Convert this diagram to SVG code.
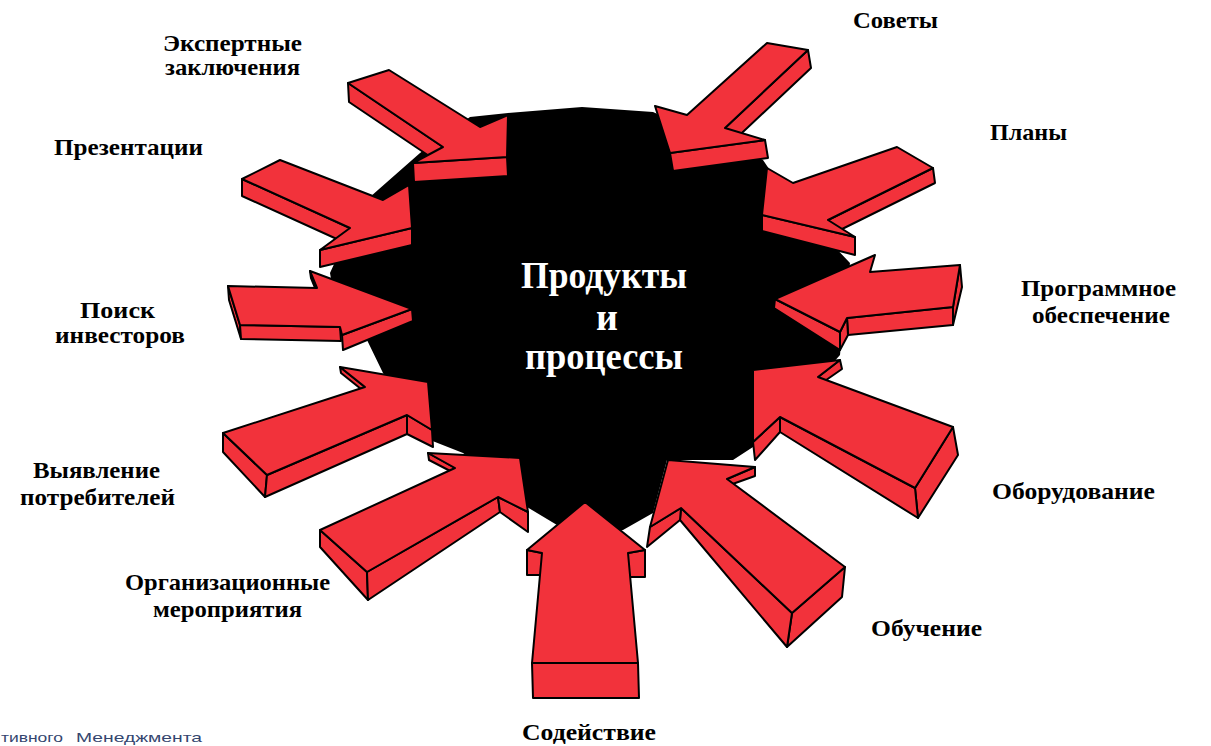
<svg xmlns="http://www.w3.org/2000/svg" width="1211" height="746" viewBox="0 0 1211 746">
<style>
.a polygon{fill:#f2323b;stroke:#000;stroke-width:2;stroke-linejoin:round}
.lbl{font-family:"Liberation Serif","Times New Roman",serif;font-weight:bold;font-size:24px;fill:#000}
.ctr{font-family:"Liberation Serif","Times New Roman",serif;font-weight:bold;font-size:38px;fill:#fff}
.foot{font-family:"Liberation Sans",Arial,sans-serif;font-size:13px;fill:#34466f}
</style>
<rect width="1211" height="746" fill="#fff"/>
<g id="core">
<polygon fill="#000" points="370,197 420,153 470,117 508,113 582,107 653,112 763,160 790,200 850,263 845,300 840,355 800,400 753,447 733,460 667,460 653,513 623,530 585,535 557,525 527,507 500,480 463,453 430,440 383,373 367,340 333,290 330,273 345,240"/>
<text class="ctr" x="521" y="288" textLength="166" lengthAdjust="spacingAndGlyphs">Продукты</text>
<text class="ctr" x="607" y="330" text-anchor="middle">и</text>
<text class="ctr" x="525" y="369" textLength="158" lengthAdjust="spacingAndGlyphs">процессы</text>
</g>
<g id="connectors" class="a">
<g id="arrow-expert">
<polygon points="348,83 443,147 444,166 349,102"/>
<polygon points="413,163 507,157 508,176 414,182"/>
<polygon points="389,70 480,127 508,115 507,157 413,163 443,147 348,83"/>
</g>
<g id="arrow-sovety">
<polygon points="808,50 725,128 728,146 811,68"/>
<polygon points="765,140 670,153 673,171 768,158"/>
<polygon points="767,43 808,50 725,128 765,140 670,153 655,106 687,115"/>
</g>
<g id="arrow-prez">
<polygon points="242,179 350,228 350,245 242,196"/>
<polygon points="320,250 412,228 412,245 320,267"/>
<polygon points="242,179 280,160 383,200 409,185 412,228 320,250 350,228"/>
</g>
<g id="arrow-poisk">
<polygon points="228,286 240,325 241,339 229,300"/>
<polygon points="240,325 340,327 341,341 241,339"/>
<polygon points="342,335 412,309 413,321 343,350"/>
<polygon points="310,271 317,288 318,295 311,278"/>
<polygon points="228,286 317,288 310,271 412,309 342,335 340,327 240,325"/>
</g>
<g id="arrow-vyyav">
<polygon points="223,433 267,475 265,497 223,452"/>
<polygon points="267,475 407,415 407,434 265,497"/>
<polygon points="407,415 432,430 433,447 407,434"/>
<polygon points="340,367 365,387 366,393 341,373"/>
<polygon points="223,433 365,387 340,367 428,382 432,430 407,415 267,475"/>
</g>
<g id="arrow-org">
<polygon points="320,530 367,572 368,600 320,547"/>
<polygon points="367,572 498,497 500,512 368,600"/>
<polygon points="498,497 528,512 528,532 500,512"/>
<polygon points="428,453 455,468 456,474 429,460"/>
<polygon points="320,530 455,468 428,453 520,458 528,512 498,497 367,572"/>
</g>
<g id="arrow-sod">
<polygon points="527,550 542,553 542,575 527,575"/>
<polygon points="628,553 645,550 645,577 628,577"/>
<polygon points="532,663 638,663 639,698 533,698"/>
<polygon points="585,502 645,550 628,553 638,663 532,663 542,553 527,550"/>
</g>
<g id="arrow-obuch">
<polygon points="845,567 792,613 787,647 842,597"/>
<polygon points="792,613 681,508 680,520 787,647"/>
<polygon points="681,508 650,527 647,547 680,520"/>
<polygon points="755,467 727,479 727,486 755,476"/>
<polygon points="668,460 755,467 727,479 845,567 792,613 681,508 650,527"/>
</g>
<g id="arrow-obor">
<polygon points="953,427 915,488 918,518 958,455"/>
<polygon points="915,488 780,417 780,432 918,518"/>
<polygon points="780,417 753,442 755,460 780,432"/>
<polygon points="840,360 818,377 819,385 842,369"/>
<polygon points="753,370 840,360 818,377 953,427 915,488 780,417 753,442"/>
</g>
<g id="arrow-prog">
<polygon points="960,265 962,287 953,325 953,307"/>
<polygon points="953,307 847,318 848,335 953,325"/>
<polygon points="847,318 840,332 840,350 848,335"/>
<polygon points="775,299 840,332 840,350 774,308"/>
<polygon points="775,299 875,255 870,272 960,265 953,307 847,318 840,332"/>
</g>
<g id="arrow-plany">
<polygon points="933,168 828,220 830,235 935,183"/>
<polygon points="762,215 855,237 855,255 762,231"/>
<polygon points="897,147 933,168 828,220 855,237 762,215 767,168 793,183"/>
</g>
</g>
<g id="labels">
<g id="n-expert"><text class="lbl" x="163" y="51" textLength="139" lengthAdjust="spacingAndGlyphs">Экспертные</text><text class="lbl" x="165" y="75" textLength="135" lengthAdjust="spacingAndGlyphs">заключения</text></g>
<g id="n-sovety"><text class="lbl" x="853" y="28" textLength="85" lengthAdjust="spacingAndGlyphs">Советы</text></g>
<g id="n-prez"><text class="lbl" x="54" y="155" textLength="149" lengthAdjust="spacingAndGlyphs">Презентации</text></g>
<g id="n-plany"><text class="lbl" x="990" y="140" textLength="77" lengthAdjust="spacingAndGlyphs">Планы</text></g>
<g id="n-poisk"><text class="lbl" x="80" y="318" textLength="75" lengthAdjust="spacingAndGlyphs">Поиск</text><text class="lbl" x="55" y="343" textLength="130" lengthAdjust="spacingAndGlyphs">инвесторов</text></g>
<g id="n-prog"><text class="lbl" x="1021" y="296" textLength="155" lengthAdjust="spacingAndGlyphs">Программное</text><text class="lbl" x="1032" y="323" textLength="138" lengthAdjust="spacingAndGlyphs">обеспечение</text></g>
<g id="n-vyyav"><text class="lbl" x="33" y="478" textLength="127" lengthAdjust="spacingAndGlyphs">Выявление</text><text class="lbl" x="20" y="505" textLength="155" lengthAdjust="spacingAndGlyphs">потребителей</text></g>
<g id="n-obor"><text class="lbl" x="992" y="499" textLength="163" lengthAdjust="spacingAndGlyphs">Оборудование</text></g>
<g id="n-org"><text class="lbl" x="125" y="590" textLength="205" lengthAdjust="spacingAndGlyphs">Организационные</text><text class="lbl" x="153" y="617" textLength="149" lengthAdjust="spacingAndGlyphs">мероприятия</text></g>
<g id="n-obuch"><text class="lbl" x="871" y="636" textLength="111" lengthAdjust="spacingAndGlyphs">Обучение</text></g>
<g id="n-sod"><text class="lbl" x="522" y="740" textLength="134" lengthAdjust="spacingAndGlyphs">Содействие</text></g>
</g>
<g id="footer">
<text class="foot" x="1" y="742" textLength="62" lengthAdjust="spacingAndGlyphs">тивного</text>
<text class="foot" x="76" y="742" textLength="126" lengthAdjust="spacingAndGlyphs">Менеджмента</text>
</g>
</svg>
